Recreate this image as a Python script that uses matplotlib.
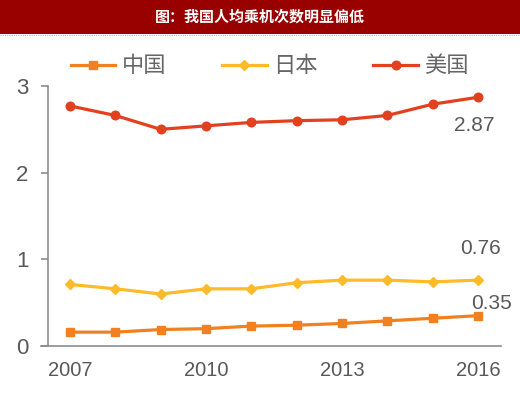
import matplotlib
matplotlib.use("Agg")
import matplotlib.pyplot as plt
from matplotlib.patches import Rectangle
from matplotlib import font_manager

years = [2007, 2008, 2009, 2010, 2011, 2012, 2013, 2014, 2015, 2016]
china = [0.16, 0.16, 0.19, 0.20, 0.23, 0.24, 0.26, 0.29, 0.32, 0.35]
japan = [0.71, 0.66, 0.60, 0.66, 0.66, 0.73, 0.76, 0.76, 0.74, 0.76]
usa = [2.77, 2.66, 2.50, 2.54, 2.58, 2.60, 2.61, 2.66, 2.79, 2.87]
series_names = ["中国", "日本", "美国"]
xtick_labels = ["2007", "2010", "2013", "2016"]
xtick_pos = [2007, 2010, 2013, 2016]
title = "图：我国人均乘机次数明显偏低"

avail = {f.name for f in font_manager.fontManager.ttflist}
num_font = "Liberation Sans Narrow" if "Liberation Sans Narrow" in avail else "Liberation Sans"
cjk = "Noto Sans CJK SC"

W, H = 520, 396
fig = plt.figure(figsize=(W / 100, H / 100), dpi=100)
fig.patch.set_facecolor("white")

# title bar
fig.patches.append(Rectangle((0, 1 - 34 / H), 1, 34 / H, transform=fig.transFigure,
                             facecolor="#990000", edgecolor="none", zorder=0))
fig.lines.append(plt.Line2D([0, 1], [1 - 35 / H, 1 - 35 / H], transform=fig.transFigure,
                            color="#B8A8C8", lw=0.8, ls=(0, (1, 1))))
fig.text(0.5, 1 - 16.5 / H, title, color="white", fontsize=10.8, fontweight="bold",
         family=[cjk, "DejaVu Sans"], ha="center", va="center")

gray = "#595959"
axc = "#8C8C8C"
px_per_year = (478 - 70) / 9.0
x_left_px, x_right_px = 41, 501
xmin = 2007 - (70 - x_left_px) / px_per_year
xmax = 2016 + (x_right_px - 478) / px_per_year
yaxis_x = 2007 - (70 - 48) / px_per_year

ax = fig.add_axes([x_left_px / W, (H - 346) / H, (x_right_px - x_left_px) / W, (346 - 86) / H])
ax.set_xlim(xmin, xmax)
ax.set_ylim(0, 3)
for s in ["top", "right"]:
    ax.spines[s].set_visible(False)
ax.spines["left"].set_position(("data", yaxis_x))
ax.spines["left"].set_color(axc)
ax.spines["bottom"].set_color(axc)
ax.spines["left"].set_linewidth(1.2)
ax.spines["bottom"].set_linewidth(1.2)

c_cn, c_jp, c_us = "#F08020", "#FDBB2A", "#E2401E"
ax.plot(years, china, color=c_cn, lw=2.3, marker="s", ms=6, label=series_names[0], zorder=3)
ax.plot(years, japan, color=c_jp, lw=2.3, marker="D", ms=5.5, label=series_names[1], zorder=3)
ax.plot(years, usa, color=c_us, lw=2.3, marker="o", ms=6.2, label=series_names[2], zorder=3)

ax.set_yticks([0, 1, 2, 3])
ax.set_yticklabels(["0", "1", "2", "3"])
ax.tick_params(axis="y", direction="out", length=5, width=1.2, color=axc, pad=9,
               labelsize=16, labelcolor=gray)
ax.set_xticks(xtick_pos)
ax.set_xticklabels(xtick_labels)
ax.tick_params(axis="x", length=0, pad=11, labelsize=14.5, labelcolor=gray)
for lab in ax.get_xticklabels() + ax.get_yticklabels():
    lab.set_family(num_font)

lbl_kw = dict(textcoords="offset points", ha="center", va="center", fontsize=15,
              color=gray, family=num_font)
ax.annotate(f"{usa[-1]:.2f}", (years[-1], usa[-1]), xytext=(-3, -20), **lbl_kw)
ax.annotate(f"{japan[-1]:.2f}", (years[-1], japan[-1]), xytext=(1.5, 23), **lbl_kw)
ax.annotate(f"{china[-1]:.2f}", (years[-1], china[-1]), xytext=(9.5, 9), **lbl_kw)

leg = fig.legend(loc="center", bbox_to_anchor=(270 / W, 1 - 66 / H), ncol=3, frameon=False,
                 prop={"family": [cjk, "DejaVu Sans"], "size": 16}, handlelength=2.0,
                 handletextpad=0.3, columnspacing=2.5, borderpad=0, labelcolor="#666666")

fig.savefig("out.png", dpi=100)
